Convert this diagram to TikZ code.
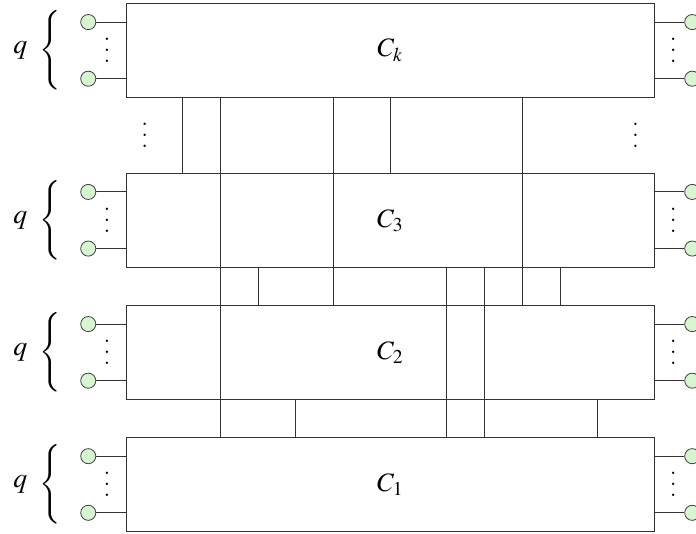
\documentclass[tikz,border=0pt]{standalone}
\usepackage{mathptmx}

\definecolor{pinfill}{RGB}{214,245,208}
% stacked dots with a wider pitch than \vdots
\newcommand{\vdotsx}{\vbox{\baselineskip=8.2pt\lineskiplimit=0pt
  \hbox{.}\hbox{.}\hbox{.}}}

\begin{document}
\begin{tikzpicture}[
  font=\fontsize{20}{24}\selectfont,
  blk/.style={draw=black!80, fill=white, line width=0.7pt,
              minimum width=14cm, minimum height=2.5cm, inner sep=0pt},
  pinnode/.style={circle, draw=black!75, fill=pinfill, line width=0.6pt,
              minimum size=0.4cm, inner sep=0pt},
  wire/.style={draw=black!80, line width=0.7pt},
  dts/.style={inner sep=0pt, font=\fontsize{22}{24}\selectfont}
]
\useasboundingbox (-3.338,-0.035) rectangle (15.1,14.085);

% blocks with their q inputs and outputs
\foreach \n/\y/\s in {c1/1.25/1, c2/4.75/2, c3/8.25/3, ck/12.75/k} {
  \node[blk] (\n) at (7,\y) {$C_{\s}$};
  \node[pinnode] (\n-l1) at (-1,\y+0.75) {};
  \node[pinnode] (\n-l2) at (-1,\y-0.75) {};
  \node[pinnode] (\n-r1) at (15,\y+0.75) {};
  \node[pinnode] (\n-r2) at (15,\y-0.75) {};
  \draw[wire] (\n-l1) -- (\n-l1 -| \n.west);
  \draw[wire] (\n-l2) -- (\n-l2 -| \n.west);
  \draw[wire] (\n-r1) -- (\n-r1 -| \n.east);
  \draw[wire] (\n-r2) -- (\n-r2 -| \n.east);
  \node[dts] (\n-ld) at (-0.5,\y) {\vdotsx};
  \node[dts] (\n-rd) at (14.5,\y) {\vdotsx};
  \node[inner sep=0pt] (\n-br) at (-2,\y)
    {$\left\{\rule[-0.85cm]{0pt}{1.7cm}\right.$};
  \node[font=\fontsize{21}{24}\selectfont] (\n-q) at (-2.8,\y) {$q$};
}

% skipped blocks between C3 and Ck
\node[dts] (gapl) at (0.5,10.5) {\vdotsx};
\node[dts] (gapr) at (13.5,10.5) {\vdotsx};

% vertical links: x position / upper block / lower block
\foreach \x/\a/\b in {1.5/ck/c3, 7/ck/c3, 5.5/ck/c2, 10.5/ck/c2,
                      2.5/ck/c1, 3.5/c3/c2, 11.5/c3/c2, 8.5/c3/c1,
                      9.5/c3/c1, 4.5/c2/c1, 12.5/c2/c1} {
  \coordinate (tap) at (\x,0);
  \draw[wire] (tap |- \a.south) -- (tap |- \b.north);
}

\end{tikzpicture}
\end{document}
